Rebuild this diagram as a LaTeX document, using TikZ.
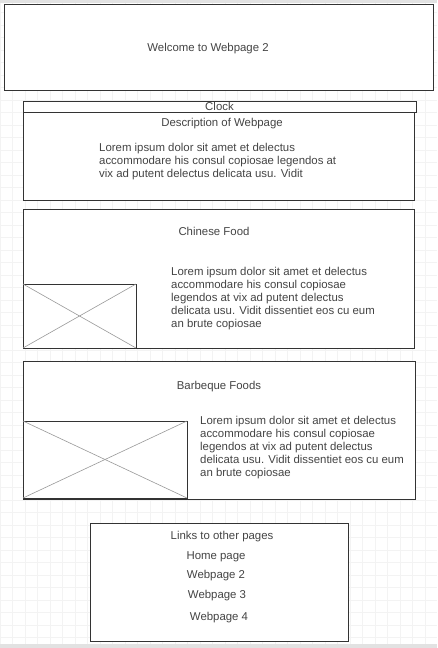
\documentclass[tikz,border=0pt]{standalone}
\usepackage{fontspec}
\setmainfont{Liberation Sans}
\usetikzlibrary{positioning}
\definecolor{cedge}{HTML}{333333}
\definecolor{ctext}{HTML}{444444}
\definecolor{ccross}{HTML}{999999}
\definecolor{cgrid}{HTML}{f3f3f3}
\definecolor{cbar}{HTML}{e2e2e2}

\begin{document}
\begin{tikzpicture}[
  x=1pt, y=-1pt,
  font=\fontsize{11.4}{13}\selectfont,
  panel/.style={draw=cedge, line width=0.9pt, fill=white, anchor=north west,
                inner sep=0pt, outer sep=0pt},
  imgbox/.style={panel},
  label/.style={text=ctext, inner sep=0pt, anchor=base},
  lorem/.style={text=ctext, inner sep=0pt, anchor=north west, align=left},
  cross/.style={draw=ccross, line width=0.6pt},
  ]
\useasboundingbox (0,0) rectangle (437,648);
% page background
\fill[white] (0,0) rectangle (437,648);
\draw[cgrid, line width=0.5pt, xstep=12.5pt, ystep=12.5pt] (0,3) grid (437,644);
\fill[cbar] (0,0) rectangle (437,3);
\fill[cbar] (0,644) rectangle (437,648);

% header
\node[panel, minimum width=429pt, minimum height=86pt] (header) at (4,4) {};
\node[label] (welcome) at (208,51) {Welcome to Webpage 2};

% clock and description
\node[panel, minimum width=393pt, minimum height=11pt, text=ctext] (clock) at (23,101) {Clock};
\node[panel, minimum width=391pt, minimum height=88pt] (desc) at (23,112) {};
\node[label] (desctitle) at (222,126) {Description of Webpage};
\node[lorem] (desctext) at (99,143)
  {Lorem ipsum dolor sit amet et delectus\\
   accommodare his consul copiosae legendos at\\
   vix ad putent delectus delicata usu. Vidit};

% chinese food
\node[panel, minimum width=391pt, minimum height=139pt] (chinese) at (23,209) {};
\node[label] (chinesetitle) at (214,235) {Chinese Food};
\node[imgbox, minimum width=113pt, minimum height=64pt] (img1) at (23,284) {};
\draw[cross] (img1.north west) -- (img1.south east);
\draw[cross] (img1.south west) -- (img1.north east);
\node[lorem] (chinesetext) at (171,267)
  {Lorem ipsum dolor sit amet et delectus\\
   accommodare his consul copiosae\\
   legendos at vix ad putent delectus\\
   delicata usu. Vidit dissentiet eos cu eum\\
   an brute copiosae};

% barbeque
\node[panel, minimum width=392pt, minimum height=138pt] (bbq) at (23,361) {};
\node[label] (bbqtitle) at (219,389) {Barbeque Foods};
\node[imgbox, minimum width=164pt, minimum height=77pt] (img2) at (23,421) {};
\draw[cross] (img2.north west) -- (img2.south east);
\draw[cross] (img2.south west) -- (img2.north east);
\node[lorem] (bbqtext) at (200,416)
  {Lorem ipsum dolor sit amet et delectus\\
   accommodare his consul copiosae\\
   legendos at vix ad putent delectus\\
   delicata usu. Vidit dissentiet eos cu eum\\
   an brute copiosae};

% links
\node[panel, minimum width=258pt, minimum height=118pt] (links) at (90,523) {};
\node[label] (linkstitle) at (222,539) {Links to other pages};
\node[label] (home) at (216,559) {Home page};
\node[label] (page2) at (216,578) {Webpage 2};
\node[label] (page3) at (217,598) {Webpage 3};
\node[label] (page4) at (219,620) {Webpage 4};
\end{tikzpicture}
\end{document}
